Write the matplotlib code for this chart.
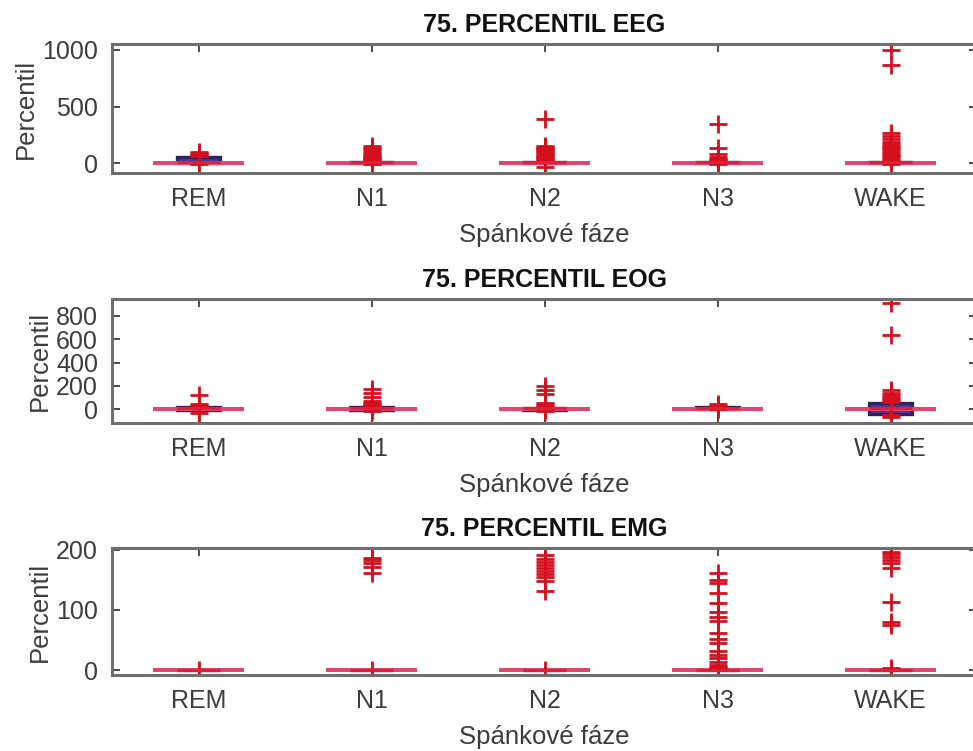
import matplotlib
matplotlib.use("Agg")
import matplotlib.pyplot as plt

plt.rcParams['font.family'] = ['Liberation Sans', 'DejaVu Sans']

categories = ["REM", "N1", "N2", "N3", "WAKE"]
xlabel_text = "Spánkové fáze"
ylabel_text = "Percentil"

# ---- 75. PERCENTIL EEG ----
eeg_med = [5, 5, 5, 5, 5]
eeg_q1 = [0, 0, 0, 0, 0]
eeg_q3 = [50, 12, 12, 10, 12]
eeg_whislo = [0, 0, 0, 0, 0]
eeg_whishi = [0, 0, 0, 0, 0]
eeg_out = [
    [-10, 60, 70, 80, 90, 100],
    [-10, 15, 25, 35, 45, 55, 65, 75, 85, 110, 120, 130, 155],
    [-35, 15, 25, 35, 45, 55, 65, 75, 85, 95, 105, 115, 125, 135, 145, 155, 390],
    [-10, 10, 20, 30, 40, 50, 80, 130, 345],
    [-10, 15, 30, 45, 60, 75, 90, 105, 120, 135, 150, 170, 190, 210, 235, 270, 870, 1000],
]
eeg_yticks = [0, 500, 1000]
eeg_ylim = (-88, 1053)

# ---- 75. PERCENTIL EOG ----
eog_med = [5, 5, 5, 5, 10]
eog_q1 = [-10, -10, -5, 0, -40]
eog_q3 = [20, 15, 10, 15, 50]
eog_whislo = [0, 0, 0, 0, 0]
eog_whishi = [0, 0, 0, 0, 0]
eog_out = [
    [-35, 5, 15, 25, 35, 45, 120],
    [-20, 15, 25, 35, 45, 55, 65, 100, 135, 170],
    [-20, 10, 20, 30, 40, 50, 130, 165, 200],
    [0, 10, 20, 30, 40],
    [-70, -50, 60, 75, 90, 105, 120, 140, 160, 635, 910],
]
eog_yticks = [0, 200, 400, 600, 800]
eog_ylim = (-120, 946)

# ---- 75. PERCENTIL EMG ----
emg_med = [0, 0, 0, 0, 0]
emg_q1 = [0, 0, 0, 0, 0]
emg_q3 = [1, 1, 1, 1, 1]
emg_whislo = [0, 0, 0, 0, 0]
emg_whishi = [0, 0, 0, 0, 0]
emg_out = [
    [0],
    [0, 162, 172, 178, 183, 187],
    [0, 132, 148, 155, 160, 165, 170, 175, 180, 185, 192],
    [0, 2, 4, 6, 8, 13, 20, 25, 32, 45, 52, 62, 82, 88, 97, 112, 128, 145, 150, 162],
    [0, 3, 75, 80, 113, 170, 178, 183, 188, 193, 197],
]
emg_yticks = [0, 100, 200]
emg_ylim = (-8, 203)

panels = [
    ("75. PERCENTIL EEG", eeg_med, eeg_q1, eeg_q3, eeg_whislo, eeg_whishi, eeg_out, eeg_yticks, eeg_ylim),
    ("75. PERCENTIL EOG", eog_med, eog_q1, eog_q3, eog_whislo, eog_whishi, eog_out, eog_yticks, eog_ylim),
    ("75. PERCENTIL EMG", emg_med, emg_q1, emg_q3, emg_whislo, emg_whishi, emg_out, emg_yticks, emg_ylim),
]

W, H = 973, 751
fig = plt.figure(figsize=(W / 100, H / 100), dpi=100)

# axes boxes in pixels: (left, top, bottom); right edge runs just past the canvas
axes_px = [(112, 44, 173), (112, 299, 423), (112, 548, 675)]
right_px = 977

spine_col = "#6e6e6e"
text_col = "#3c3c3c"
for (title, med, q1, q3, wlo, whi, out, yt, yl), (l, t, b) in zip(panels, axes_px):
    ax = fig.add_axes([l / W, 1 - b / H, (right_px - l) / W, (b - t) / H])
    stats = []
    for i, name in enumerate(categories):
        stats.append(dict(med=med[i], q1=q1[i], q3=q3[i], whislo=wlo[i],
                          whishi=whi[i], fliers=out[i], label=name))
    ax.bxp(stats, positions=range(1, len(categories) + 1), widths=0.25,
           capwidths=0.5, showfliers=True, patch_artist=True,
           boxprops=dict(facecolor="#4a3aa0", edgecolor="#33205e", linewidth=2.4),
           medianprops=dict(color="#e0203a", linewidth=2.2),
           whiskerprops=dict(color="#3a1f2a", linewidth=1.6),
           capprops=dict(color="#e2456e", linewidth=2.8),
           flierprops=dict(marker="+", markersize=13, markeredgewidth=2.0,
                           markeredgecolor="#d40f1e", linestyle="none"))
    ax.set_xlim(0.5, 5.5)
    ax.set_ylim(*yl)
    ax.set_yticks(yt)
    ax.set_yticklabels([str(v) for v in yt])
    ax.set_xticks(range(1, len(categories) + 1))
    ax.set_xticklabels(categories)
    ax.tick_params(axis="both", direction="in", length=6, width=1.3,
                   colors=text_col, labelsize=18, labelcolor=text_col,
                   top=True, right=True, pad=10)
    for s in ax.spines.values():
        s.set_color(spine_col)
        s.set_linewidth(2.2)
    ax.set_title(title, fontsize=18, fontweight="bold", color="#111111", pad=9)
    ax.set_xlabel(xlabel_text, fontsize=18.5, color=text_col, labelpad=9)
    ax.set_ylabel(ylabel_text, fontsize=18.5, color=text_col, labelpad=3)

fig.savefig("out.png", dpi=100)
